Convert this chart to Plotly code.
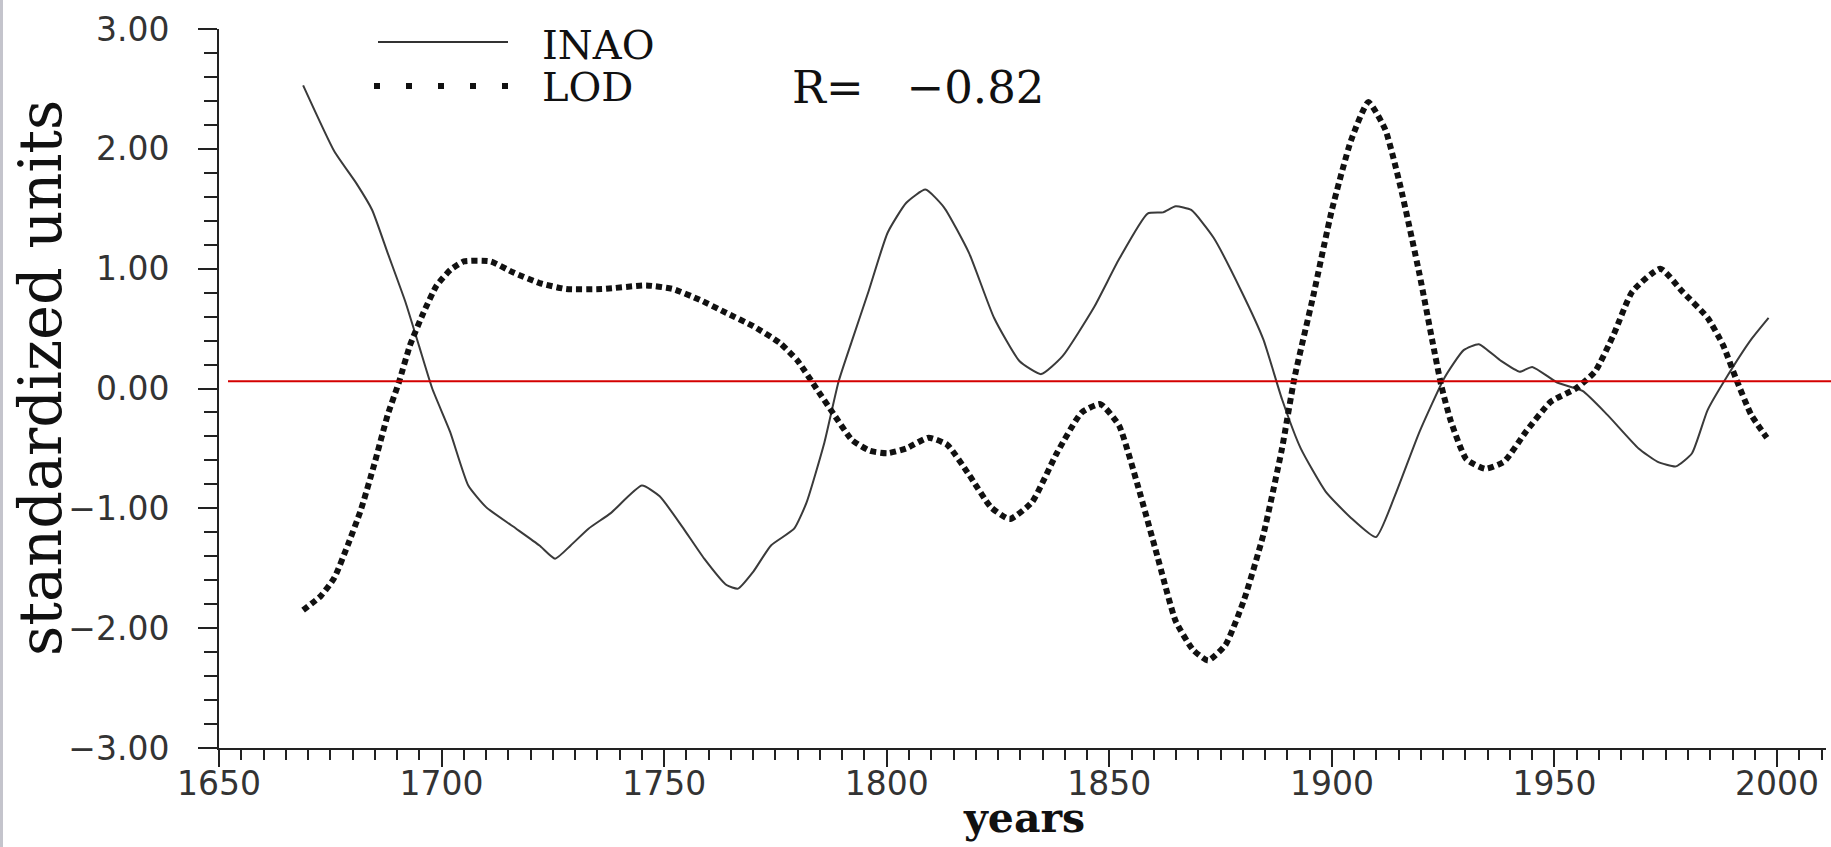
import plotly.graph_objects as go

# ---- data ----
INAO_YEARS = [1668.9, 1675.9, 1680.9, 1684.4, 1687.9, 1691.9, 1694.9, 1697.9, 1701.9, 1706.0,
              1710.0, 1716.0, 1722.0, 1725.5, 1729.0, 1733.0, 1738.0, 1745.0, 1749.0, 1754.0,
              1759.0, 1764.0, 1766.6, 1770.0, 1774.0, 1779.2, 1782.0, 1786.0, 1789.2, 1792.2,
              1796.0, 1800.2, 1804.4, 1808.7, 1812.9, 1818.5, 1824.1, 1829.8, 1834.7, 1839.5,
              1846.6, 1852.2, 1858.6, 1862.1, 1864.9, 1868.4, 1873.4, 1879.7, 1884.6, 1888.8,
              1893.0, 1898.6, 1904.3, 1909.9, 1914.1, 1919.7, 1925.3, 1929.6, 1933.0, 1938.0,
              1942.2, 1945.0, 1950.6, 1956.3, 1961.9, 1968.9, 1973.1, 1977.3, 1980.9, 1984.4,
              1988.6, 1994.2, 1998.1]
INAO_VALUES = [2.53, 1.98, 1.71, 1.49, 1.13, 0.72, 0.36, 0.00, -0.36, -0.81,
               -0.99, -1.15, -1.31, -1.42, -1.31, -1.17, -1.04, -0.81, -0.90, -1.15,
               -1.42, -1.64, -1.67, -1.53, -1.31, -1.17, -0.95, -0.45, 0.06, 0.40,
               0.82, 1.30, 1.55, 1.66, 1.51, 1.13, 0.59, 0.23, 0.12, 0.27,
               0.68, 1.08, 1.46, 1.47, 1.52, 1.49, 1.26, 0.81, 0.41, -0.09,
               -0.50, -0.86, -1.08, -1.24, -0.90, -0.36, 0.09, 0.32, 0.37, 0.23,
               0.14, 0.18, 0.05, -0.02, -0.22, -0.50, -0.61, -0.65, -0.54, -0.18,
               0.09, 0.41, 0.59]

LOD_YEARS = [1668.9, 1672.9, 1675.9, 1678.9, 1681.9, 1684.9, 1687.9, 1690.4, 1692.9, 1695.9,
             1698.9, 1702.0, 1705.0, 1711.0, 1716.0, 1722.0, 1728.0, 1736.0, 1746.0, 1752.0,
             1758.0, 1764.0, 1770.0, 1776.0, 1780.0, 1784.2, 1788.2, 1792.2, 1796.2, 1800.2,
             1804.4, 1809.4, 1813.6, 1818.5, 1823.4, 1827.6, 1832.6, 1838.2, 1843.8, 1848.0,
             1852.2, 1856.4, 1860.8, 1864.9, 1868.8, 1872.2, 1876.1, 1880.3, 1884.6, 1888.8,
             1891.6, 1895.8, 1900.0, 1904.3, 1908.2, 1912.0, 1915.5, 1919.7, 1922.5, 1924.6,
             1926.7, 1930.2, 1934.5, 1938.7, 1943.6, 1949.2, 1954.8, 1959.1, 1963.3, 1967.5,
             1973.8, 1978.7, 1984.4, 1987.9, 1990.7, 1994.2, 1997.7]
LOD_VALUES = [-1.85, -1.73, -1.58, -1.31, -1.01, -0.63, -0.22, 0.05, 0.36, 0.63,
              0.86, 0.99, 1.06, 1.06, 0.97, 0.88, 0.83, 0.83, 0.86, 0.83,
              0.74, 0.63, 0.52, 0.38, 0.23, 0.00, -0.22, -0.43, -0.52, -0.54,
              -0.50, -0.41, -0.47, -0.72, -0.99, -1.09, -0.95, -0.54, -0.20, -0.13,
              -0.31, -0.81, -1.40, -1.94, -2.18, -2.27, -2.14, -1.76, -1.22, -0.50,
              0.09, 0.77, 1.49, 2.07, 2.39, 2.16, 1.67, 0.95, 0.41, 0.02,
              -0.27, -0.59, -0.67, -0.61, -0.36, -0.11, 0.00, 0.14, 0.45, 0.81,
              1.00, 0.81, 0.59, 0.36, 0.09, -0.22, -0.41]

Y_TICKS = [-3, -2, -1, 0, 1, 2, 3]
X_TICKS = [1650, 1700, 1750, 1800, 1850, 1900, 1950, 2000]
REF_LINE = 0.06
R_TEXT = "R=\u00a0\u00a0\u00a0\u22120.82"

# ---- layout geometry (pixels) ----
W, H = 1831, 847
ML, MR, MT, MB = 219, 5, 29, 99
PW, PH = W - ML - MR, H - MT - MB


def px_x(p):
    return (p - ML) / PW


def px_y(p):
    return (H - MB - p) / PH


fig = go.Figure()
fig.add_trace(go.Scatter(
    x=INAO_YEARS, y=INAO_VALUES, mode="lines", name="INAO",
    line=dict(color="#3a3a3a", width=2, shape="spline", smoothing=0.5),
    showlegend=False, cliponaxis=False))
fig.add_trace(go.Scatter(
    x=LOD_YEARS, y=LOD_VALUES, mode="lines", name="LOD",
    line=dict(color="#111111", width=6, dash="6px,4px", shape="spline", smoothing=0.5),
    showlegend=False, cliponaxis=False))

tick_font = dict(family="DejaVu Sans", size=33, color="#333333")
serif = "DejaVu Serif"

fig.update_layout(
    width=W, height=H,
    margin=dict(l=ML, r=MR, t=MT, b=MB, pad=0),
    paper_bgcolor="white", plot_bgcolor="white",
    xaxis=dict(range=[1650, 2011], tickvals=X_TICKS, ticks="outside", ticklen=17,
               tickwidth=2, tickcolor="#222", showline=True, linecolor="#222", linewidth=2,
               showgrid=False, zeroline=False, tickfont=tick_font, ticklabelstandoff=-12,
               minor=dict(dtick=5, tick0=1650, ticks="outside", ticklen=10, tickwidth=2,
                          tickcolor="#222", showgrid=False)),
    yaxis=dict(range=[-3, 3], tickvals=Y_TICKS, tickformat=".2f", ticks="outside",
               ticklen=19, tickwidth=2, tickcolor="#222", showline=True, linecolor="#222",
               linewidth=2, showgrid=False, zeroline=False, tickfont=tick_font,
               ticklabelstandoff=22,
               minor=dict(dtick=0.2, tick0=-3, ticks="outside", ticklen=13, tickwidth=2,
                          tickcolor="#222", showgrid=False)),
)

# red reference line
fig.add_shape(type="line", xref="paper", yref="y", x0=px_x(228), x1=px_x(W + 5),
              y0=REF_LINE, y1=REF_LINE, line=dict(color="#d40000", width=2))
# left image border
fig.add_shape(type="line", xref="paper", yref="paper", x0=px_x(1.5), x1=px_x(1.5),
              y0=px_y(H + 5), y1=px_y(-5), line=dict(color="#c4c4cc", width=3))
# legend samples
fig.add_shape(type="line", xref="paper", yref="paper", x0=px_x(378), x1=px_x(508),
              y0=px_y(42), y1=px_y(42), line=dict(color="#333", width=2))
fig.add_shape(type="line", xref="paper", yref="paper", x0=px_x(374), x1=px_x(512),
              y0=px_y(86), y1=px_y(86), line=dict(color="#111", width=6, dash="6px,26px"))

fig.add_annotation(text="INAO", xref="paper", yref="paper", x=px_x(540), y=px_y(45),
                   xanchor="left", yanchor="middle", showarrow=False,
                   font=dict(family=serif, size=40, color="#111"))
fig.add_annotation(text="LOD", xref="paper", yref="paper", x=px_x(540), y=px_y(87),
                   xanchor="left", yanchor="middle", showarrow=False,
                   font=dict(family=serif, size=40, color="#111"))
fig.add_annotation(text=R_TEXT, xref="paper", yref="paper", x=px_x(790), y=px_y(87),
                   xanchor="left", yanchor="middle", showarrow=False,
                   font=dict(family=serif, size=45, color="#111"))
fig.add_annotation(text="standardized units", xref="paper", yref="paper",
                   x=px_x(40), y=px_y(378), textangle=-90, xanchor="center",
                   yanchor="middle", showarrow=False,
                   font=dict(family=serif, size=59, color="#111"))
fig.add_annotation(text="<b>years</b>", xref="paper", yref="paper",
                   x=px_x(1024), y=px_y(818), xanchor="center", yanchor="middle",
                   showarrow=False, font=dict(family=serif, size=41, color="#111"))

fig.write_html("out.html", config=dict(displayModeBar=False))
